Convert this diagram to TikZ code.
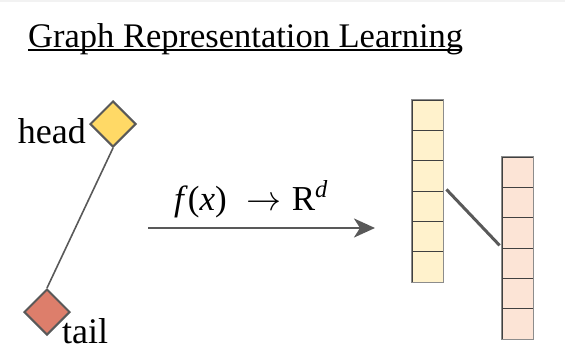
\RequirePackage{fix-cm}
\documentclass[tikz,border=0pt]{standalone}
\usepackage{fontspec}
\setmainfont{Liberation Serif}
\newfontfamily\serifface{Liberation Serif}
\usetikzlibrary{shapes.geometric,arrows.meta}
\definecolor{edgegray}{HTML}{595959}
\definecolor{headfill}{HTML}{FFD966}
\definecolor{tailfill}{HTML}{DD7E6B}
\definecolor{vecA}{HTML}{FFF2CC}
\definecolor{vecB}{HTML}{FCE4D6}
\definecolor{framegray}{HTML}{8C8C8C}
\definecolor{innergray}{HTML}{404040}
\tikzset{
  diam/.style={diamond, draw=edgegray, line width=2pt, minimum width=46pt, minimum height=46pt, inner sep=0pt, aspect=1},
  cell/.style={rectangle, draw=innergray, line width=0.8pt, minimum width=31pt, minimum height=30.33pt, inner sep=0pt},
  lbl/.style={inner sep=0pt, font=\serifface\fontsize{36}{40}\selectfont},
  link/.style={draw=edgegray, line width=1.6pt},
  frame/.style={draw=framegray, line width=1pt},
}
\begin{document}
\begin{tikzpicture}[x=1pt,y=-1pt]
\useasboundingbox (0,0) rectangle (565,364);
\fill[gray!10] (0,0) rectangle (565,2);
% title
\node[inner sep=0pt, anchor=base west, font=\serifface\fontsize{34.5}{40}\selectfont] (title) at (28,47) {Graph Representation Learning};
\coordinate (ul1) at (28,49.5);
\coordinate (ul2) at (462,49.5);
\draw[line width=2pt] (ul1) -- (ul2);
% diamonds
\node[diam, fill=headfill] (head) at (113,124) {};
\node[diam, fill=tailfill] (tail) at (47,312) {};
\draw[link] (head.south) -- (tail.north);
\node[lbl, anchor=base east] (headlbl) at (86,143) {head};
\node[lbl, anchor=base west] (taillbl) at (62,343) {tail};
% arrow
\coordinate (a1) at (148,228);
\coordinate (a2) at (375,228);
\draw[draw=edgegray, line width=2.6pt, -{Stealth[length=21pt,width=19pt,inset=6pt]}] (a1) -- (a2);
\node[inner sep=0pt, anchor=base west, font=\serifface\fontsize{35}{40}\selectfont] (fx) at (174,210) {\textit{f}(\textit{x})\hspace{20pt}$\rightarrow$\hspace{10pt}R\textsuperscript{\textit{d}}};
% vectors
\foreach \i in {1,...,6} {
  \node[cell, fill=vecA] (v\i) at (427.5,{100+30.33*(\i-0.5)}) {};
  \node[cell, fill=vecB] (w\i) at (517.5,{157+30.33*(\i-0.5)}) {};
}
\draw[frame] (v1.north west) rectangle (v6.south east);
\draw[frame] (w1.north west) rectangle (w6.south east);
\draw[draw=edgegray, line width=3pt] ([xshift=3pt,yshift=2pt]v3.south east) -- ([xshift=-2pt,yshift=3pt]w3.south west);
\end{tikzpicture}
\end{document}
